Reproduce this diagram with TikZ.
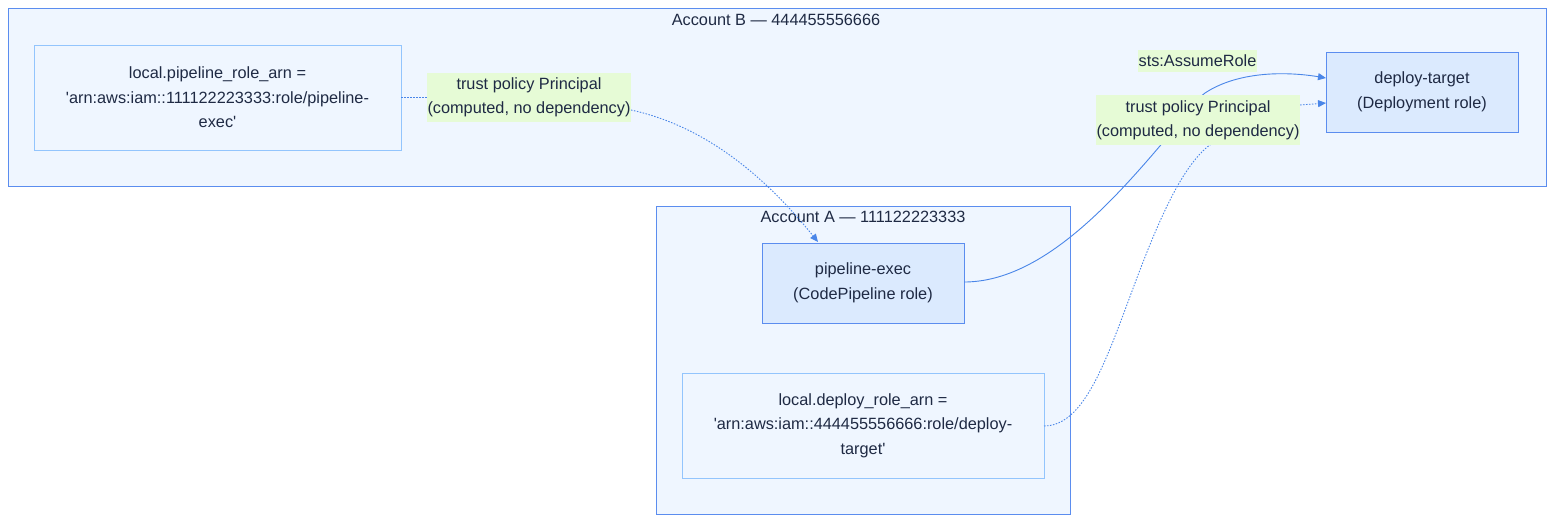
\documentclass[tikz,border=0pt]{standalone}
\usepackage{fontspec}
\setmainfont{Liberation Sans}
\usetikzlibrary{arrows.meta,calc}
\definecolor{accfill}{HTML}{EFF6FF}
\definecolor{accline}{HTML}{5B8DEF}
\definecolor{lightline}{HTML}{93C5FD}
\definecolor{rolefill}{HTML}{DBEAFE}
\definecolor{lblfill}{HTML}{E6FBD6}
\definecolor{edgecol}{HTML}{4A86E8}
\definecolor{txt}{HTML}{1F2A44}
\newcommand{\sq}{\textquotesingle}
\tikzset{
  account/.style={draw=accline, fill=accfill, line width=0.9pt},
  acctitle/.style={text=txt, font=\fontsize{16.3}{20}\selectfont, inner sep=0pt},
  localbox/.style={draw=lightline, fill=accfill, line width=0.9pt, align=center, text=txt,
    font=\fontsize{16.3}{24.5}\selectfont, inner sep=0pt},
  rolebox/.style={draw=accline, fill=rolefill, line width=0.9pt, align=center, text=txt,
    font=\fontsize{16.3}{25}\selectfont, inner sep=0pt},
  edgelbl/.style={fill=lblfill, align=center, text=txt, font=\fontsize{16.3}{24}\selectfont,
    inner sep=0pt},
  solidedge/.style={draw=edgecol, line width=0.9pt, -{Triangle[length=8pt,width=7pt]}},
  dotedge/.style={draw=edgecol, line width=0.9pt, dash pattern=on 1.5pt off 1.5pt},
}
\begin{document}
\begin{tikzpicture}[x=1pt,y=-1pt]
\useasboundingbox (0,0) rectangle (1568,528);
% accounts
\draw[account] (8,8) rectangle (1546,186);
\node[acctitle] (tB) at (776,20) {Account B — 444455556666};
\draw[account] (656,206) rectangle (1070,514);
\node[acctitle] (tA) at (863,217) {Account A — 111122223333};
% nodes
\node[localbox, minimum width=367pt, minimum height=105pt] (plocal) at (217.5,97.5)
  {local.pipeline\_role\_arn =\\\sq arn:aws:iam::111122223333:role/pipeline-\\exec\sq};
\node[localbox, minimum width=362pt, minimum height=105pt] (dlocal) at (863,425.5)
  {local.deploy\_role\_arn =\\\sq arn:aws:iam::444455556666:role/deploy-\\target\sq};
\node[rolebox, minimum width=202pt, minimum height=80pt] (pe) at (863,283)
  {pipeline-exec\\(CodePipeline role)};
\node[rolebox, minimum width=192pt, minimum height=80pt] (dt) at (1422,92)
  {deploy-target\\(Deployment role)};
% coordinates
\coordinate (peTop) at (818,242);
\coordinate (dtA) at (1326,78);
\coordinate (dtB) at (1326,103);
\coordinate (dlR) at (1044,426);
\coordinate (l1R) at (631,110);
\coordinate (l2R) at (1300,105);
% edges
\draw[solidedge] (964,282) .. controls (1040,282) and (1110,205) .. (1165,140)
  .. controls (1185,117) and (1195,100) .. (1205,93)
  .. controls (1240,70) and (1290,72) .. (dtA);
\draw[dotedge] (dlR) .. controls (1100,426) and (1120,300) .. (1170,200)
  .. controls (1190,160) and (1210,140) .. (1222,140);
\draw[dotedge] (plocal.east |- 0,97) -- (427,97);
\draw[dotedge, -{Triangle[length=8pt,width=7pt]}] (l1R) .. controls (700,125) and (760,170) .. (peTop);
\draw[dotedge, -{Triangle[length=8pt,width=7pt]}] (l2R) -- (dtB);
% labels
\node[edgelbl, minimum width=204pt, minimum height=49pt] (lbl1) at (529,97.5)
  {trust policy Principal\\(computed, no dependency)};
\node[edgelbl, minimum width=119pt, minimum height=22pt] (lbl2) at (1197.5,61)
  {sts:AssumeRole};
\node[edgelbl, minimum width=204pt, minimum height=50pt] (lbl3) at (1198,120)
  {trust policy Principal\\(computed, no dependency)};
\end{tikzpicture}
\end{document}
